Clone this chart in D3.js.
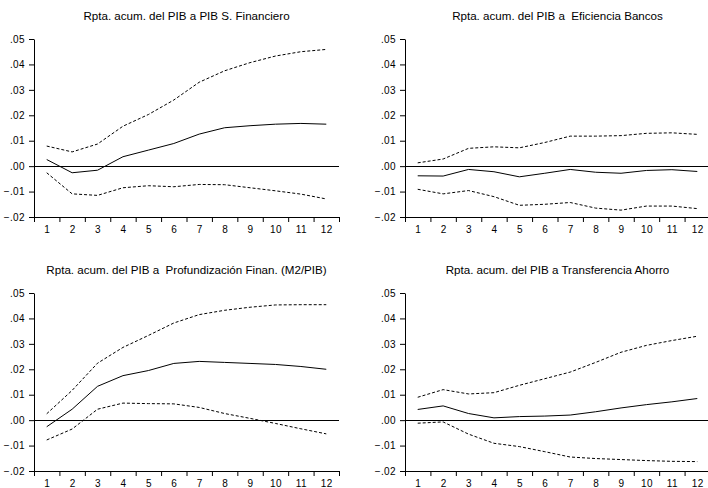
<!DOCTYPE html>
<html lang="es">
<head>
    <meta charset="utf-8">
    <title>Rpta. acum. del PIB</title>
    <style>
        body {
            margin: 0;
            background-color: #ffffff;
        }
        svg text {
            font-family: Arial, 'Liberation Sans', sans-serif;
            fill: #000;
        }
        .tick text {
            font-size: 10px;
            letter-spacing: 0.4px;
        }
        .ttl {
            font-size: 11.6px;
            white-space: pre;
        }
        .domain, .tick line {
            stroke: #000;
        }
    </style>
    <script src="https://d3js.org/d3.v7.min.js" charset="utf-8"></script>
</head>
<body>
    <svg id="chart" width="708" height="488"></svg>

    <script type="text/javascript">
    // periodos
    var periods = [1, 2, 3, 4, 5, 6, 7, 8, 9, 10, 11, 12];
    var yTicks = [-0.02, -0.01, 0.00, 0.01, 0.02, 0.03, 0.04, 0.05];

    var titles = [
        "Rpta. acum. del PIB a PIB S. Financiero",
        "Rpta. acum. del PIB a  Eficiencia Bancos",
        "Rpta. acum. del PIB a  Profundización Finan. (M2/PIB)",
        "Rpta. acum. del PIB a Transferencia Ahorro"
    ];

    // PIB S. Financiero
    var finUpper = [0.0079, 0.0056, 0.0087, 0.0157, 0.0203, 0.0260, 0.0330, 0.0375, 0.0407, 0.0433, 0.0450, 0.0459];
    var finMid   = [0.0026, -0.0026, -0.0016, 0.0037, 0.0063, 0.0089, 0.0126, 0.0151, 0.0159, 0.0165, 0.0168, 0.0165];
    var finLower = [-0.0026, -0.0109, -0.0115, -0.0085, -0.0077, -0.0081, -0.0072, -0.0073, -0.0085, -0.0097, -0.0110, -0.0129];

    // Eficiencia Bancos
    var efiUpper = [0.0013, 0.0028, 0.0070, 0.0076, 0.0072, 0.0093, 0.0118, 0.0118, 0.0120, 0.0129, 0.0131, 0.0125];
    var efiMid   = [-0.0038, -0.0039, -0.0013, -0.0022, -0.0042, -0.0028, -0.0013, -0.0024, -0.0028, -0.0017, -0.0014, -0.0021];
    var efiLower = [-0.0091, -0.0109, -0.0096, -0.0120, -0.0154, -0.0150, -0.0143, -0.0165, -0.0173, -0.0157, -0.0157, -0.0167];

    // Profundizacion Finan. (M2/PIB)
    var proUpper = [0.0025, 0.0117, 0.0224, 0.0286, 0.0333, 0.0382, 0.0415, 0.0432, 0.0444, 0.0453, 0.0454, 0.0454];
    var proMid   = [-0.0026, 0.0043, 0.0133, 0.0175, 0.0195, 0.0223, 0.0231, 0.0227, 0.0223, 0.0219, 0.0211, 0.0200];
    var proLower = [-0.0078, -0.0035, 0.0043, 0.0067, 0.0065, 0.0064, 0.0050, 0.0026, 0.0007, -0.0013, -0.0034, -0.0054];

    // Transferencia Ahorro
    var traUpper = [0.0090, 0.0120, 0.0103, 0.0108, 0.0137, 0.0163, 0.0189, 0.0227, 0.0267, 0.0294, 0.0313, 0.0330];
    var traMid   = [0.0042, 0.0056, 0.0026, 0.0009, 0.0014, 0.0016, 0.0020, 0.0033, 0.0048, 0.0061, 0.0072, 0.0085];
    var traLower = [-0.0012, -0.0007, -0.0055, -0.0091, -0.0104, -0.0124, -0.0145, -0.0151, -0.0155, -0.0159, -0.0162, -0.0163];

    var panels = [
        { title: titles[0], upper: finUpper, mid: finMid, lower: finLower, left: 34,  top: 39 },
        { title: titles[1], upper: efiUpper, mid: efiMid, lower: efiLower, left: 405, top: 39 },
        { title: titles[2], upper: proUpper, mid: proMid, lower: proLower, left: 34,  top: 293 },
        { title: titles[3], upper: traUpper, mid: traMid, lower: traLower, left: 405, top: 293 }
    ];

    var w = 305, h = 178;
    var svg = d3.select("#chart");

    var x = d3.scaleLinear().domain([0.5, 12.5]).range([0, w]);
    var y = d3.scaleLinear().domain([-0.02, 0.05]).range([h, 0]);
    var bounds = periods.map(function (p) { return p - 0.5; }).concat([12.5]);

    var fmt = function (d) {
        return d3.format(".2f")(d).replace("0.", ".");
    };

    var line = d3.line()
        .x(function (d, i) { return x(periods[i]); })
        .y(function (d) { return y(d); });

    panels.forEach(function (p) {
        var g = svg.append("g")
            .attr("transform", "translate(" + p.left + "," + p.top + ")");

        g.append("text")
            .attr("class", "ttl")
            .attr("x", w / 2)
            .attr("y", -19)
            .attr("text-anchor", "middle")
            .text(p.title);

        // y axis
        g.append("g")
            .call(d3.axisLeft(y).tickValues(yTicks).tickFormat(fmt)
                .tickSize(5).tickSizeOuter(0).tickPadding(4))
            .call(function (a) { a.selectAll("text").attr("font-family", null).attr("font-size", null); });

        // x axis: marcas entre periodos
        g.append("g")
            .attr("transform", "translate(0," + h + ")")
            .call(d3.axisBottom(x).tickValues(bounds).tickFormat("")
                .tickSize(5).tickSizeOuter(0))
            .call(function (a) { a.selectAll("text").remove(); });

        // x axis: etiquetas
        g.append("g")
            .attr("transform", "translate(0," + h + ")")
            .call(d3.axisBottom(x).tickValues(periods).tickFormat(d3.format("d"))
                .tickSize(0).tickPadding(9))
            .call(function (a) {
                a.select(".domain").remove();
                a.selectAll("text").attr("font-family", null).attr("font-size", null);
            });

        // linea cero
        g.append("line")
            .attr("x1", 0)
            .attr("x2", w)
            .attr("y1", Math.round(y(0)) + 0.5)
            .attr("y2", Math.round(y(0)) + 0.5)
            .attr("stroke", "#000")
            .attr("stroke-width", 1);

        [["upper", "3,2"], ["mid", null], ["lower", "3,2"]].forEach(function (s) {
            g.append("path")
                .attr("fill", "none")
                .attr("stroke", "#000")
                .attr("stroke-width", 1)
                .attr("stroke-dasharray", s[1])
                .attr("d", line(p[s[0]]));
        });
    });
    </script>
</body>
</html>
